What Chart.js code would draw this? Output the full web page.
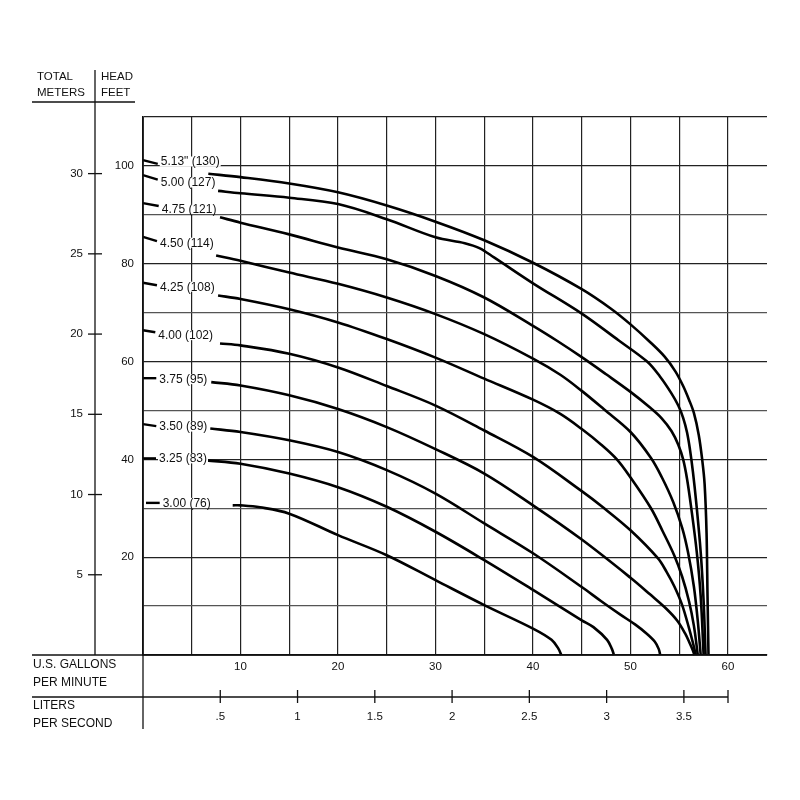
<!DOCTYPE html>
<html>
<head>
<meta charset="utf-8">
<script src="https://cdn.jsdelivr.net/npm/chart.js@4.4.0/dist/chart.umd.min.js"></script>
<style>
  html, body { margin: 0; padding: 0; background: #fff; }
  #wrap { position: relative; width: 800px; height: 800px; }
</style>
</head>
<body>
<div id="wrap"><canvas id="chart"></canvas></div>
<script>
const FONT = '"Liberation Sans", Arial, sans-serif';
const GPM_PER_LPS = 15.8503;
const FT_PER_M = 3.28084;

const GPM_TICKS = [10, 20, 30, 40, 50, 60];
const FEET_TICKS = [20, 40, 60, 80, 100];
const METER_TICKS = [5, 10, 15, 20, 25, 30];
const LPS_TICKS = [0.5, 1, 1.5, 2, 2.5, 3, 3.5];
const LPS_LABELS = ['.5', '1', '1.5', '2', '2.5', '3', '3.5'];

const IMPELLERS = ['5.13" (130)', '5.00 (127)', '4.75 (121)', '4.50 (114)', '4.25 (108)',
                   '4.00 (102)', '3.75 (95)', '3.50 (89)', '3.25 (83)', '3.00 (76)'];

// flow (US gpm) and head (ft)
const Q_513 = [6.7, 10, 15, 20, 25, 30, 35, 40, 45, 48, 50, 52, 53.5, 54.6, 55.4, 56.0, 56.5, 57.0, 57.35, 57.6, 57.8, 57.9, 58.0];
const H_513 = [98.4, 97.7, 96.4, 94.6, 91.9, 88.6, 84.8, 80.2, 74.8, 70.8, 67.6, 64.0, 61.0, 58.0, 55.0, 52.2, 49.5, 45, 40, 35, 25, 12, 0];
const Q_500 = [7.7, 10, 15, 20, 25, 30, 33, 34.5, 36, 40, 45, 48.8, 51.7, 53, 54.2, 54.9, 55.4, 55.8, 56.1, 56.4, 56.75, 57.2, 57.5, 57.7];
const H_500 = [94.9, 94.4, 93.5, 92.2, 89.1, 85.4, 84.2, 83.2, 81.3, 76.0, 69.8, 64.3, 60, 57, 53.5, 51.0, 48.5, 45.5, 42, 37.5, 31, 21, 11, 0];
const Q_475 = [7.9, 10, 15, 20, 25, 30, 35, 40, 42.5, 45, 47.5, 50, 52, 53.2, 54.2, 54.9, 55.4, 55.8, 56.2, 56.8, 57.2, 57.5];
const H_475 = [89.5, 88.4, 86.0, 83.3, 80.9, 77.5, 73.1, 67.3, 64.2, 60.9, 57.4, 53.8, 50.6, 48.4, 45.8, 43.0, 40.0, 36, 30.5, 21, 12, 0];
const Q_450 = [7.5, 10, 15, 20, 25, 30, 35, 40, 42.8, 45, 47.3, 50, 52.1, 53.2, 54.4, 55.3, 55.9, 56.5, 56.9, 57.2];
const H_450 = [81.7, 80.6, 78.2, 75.9, 73.1, 69.7, 65.6, 60.6, 57.3, 54, 50.2, 45.6, 40.3, 36.4, 31.2, 26, 21, 14, 7, 0];
const Q_425 = [7.7, 10, 15, 20, 25, 30, 35, 40, 42.8, 45, 47, 48.6, 50, 52.1, 53.3, 54.5, 55.3, 56.0, 56.5, 56.9];
const H_425 = [73.5, 72.8, 70.7, 68.0, 64.6, 60.8, 56.5, 52.2, 49.3, 46.2, 43, 40, 36.3, 30, 25.3, 20.3, 16, 11, 6, 0];
const Q_400 = [7.9, 10, 15, 20, 25, 30, 35, 40, 45, 47.3, 50, 52.8, 53.7, 54.5, 55.3, 56.0, 56.4, 56.7];
const H_400 = [63.7, 63.3, 61.6, 58.8, 55, 51, 45.9, 40.5, 33.5, 30, 25.5, 19.8, 17.0, 14, 10.2, 5.5, 2.5, 0];
const Q_375 = [7, 10, 15, 20, 25, 30, 35, 40, 45, 50, 52, 53.7, 54.8, 55.6, 56.1, 56.4, 56.55];
const H_375 = [55.8, 55.1, 53.1, 50.3, 46.6, 42.1, 37.1, 30.6, 23.6, 15.8, 12.4, 9.4, 7.0, 4.4, 2.3, 0.9, 0];
const Q_350 = [6.9, 10, 15, 20, 25, 30, 35, 40, 45, 47, 49, 50.5, 51.7, 52.5, 52.9, 53.05];
const H_350 = [46.3, 45.6, 43.9, 41.5, 37.8, 33, 26.9, 20.8, 13.9, 11, 8.2, 6.2, 4.3, 2.7, 1.2, 0];
const Q_325 = [6.5, 10, 15, 20, 25, 30, 35, 40, 45, 46.2, 47.6, 48.1, 48.3];
const H_325 = [39.8, 39.1, 37.1, 34.3, 30.3, 25.2, 19.4, 13.3, 7.1, 5.7, 3.1, 1.2, 0];
const Q_300 = [9.2, 10, 12, 15, 20, 25, 30, 35, 40, 41.9, 42.6, 42.9];
const H_300 = [30.6, 30.6, 30.2, 28.9, 24.5, 20.4, 15.3, 10.2, 5.4, 3.1, 1.3, 0];

// where each impeller label sits (gpm, ft) and the heads of its leader line (ft at the edge, ft at the text)
const LABEL_AT = [[1.82, 100.9], [1.82, 96.6], [1.92, 91.2], [1.74, 84.3], [1.74, 75.3],
                  [1.57, 65.4], [1.67, 56.4], [1.67, 46.7], [1.64, 40.2], [2.02, 31.1]];
const LEADER_FT = [[101.2, 100.4], [98.1, 97.2], [92.4, 91.8], [85.5, 84.6], [76.1, 75.6],
                   [66.4, 66.0], [56.6, 56.6], [47.2, 46.8], [40.2, 40.2], [31.1, 31.1]];

const CURVES = [[Q_513, H_513], [Q_500, H_500], [Q_475, H_475], [Q_450, H_450], [Q_425, H_425],
                [Q_400, H_400], [Q_375, H_375], [Q_350, H_350], [Q_325, H_325], [Q_300, H_300]];

const decor = {
  id: 'decor',
  afterDatasetsDraw(chart) {
    const { ctx, chartArea: a, scales: { x, y } } = chart;
    ctx.save();
    ctx.font = '12px ' + FONT;
    ctx.textBaseline = 'middle';
    IMPELLERS.forEach((txt, i) => {
      const px = x.getPixelForValue(LABEL_AT[i][0]);
      const py = y.getPixelForValue(LABEL_AT[i][1]);
      const w = ctx.measureText(txt).width;
      ctx.fillStyle = '#fff';
      ctx.fillRect(px - 1, py - 5, w + 2, 10);
      ctx.fillStyle = '#111';
      ctx.fillText(txt, px, py + 0.5);
      ctx.strokeStyle = '#000';
      ctx.lineWidth = 2.4;
      ctx.beginPath();
      ctx.moveTo(a.left + (i === 9 ? 3 : 0), y.getPixelForValue(LEADER_FT[i][0]));
      ctx.lineTo(px - 3, y.getPixelForValue(LEADER_FT[i][1]));
      ctx.stroke();
    });
    ctx.restore();
  },
  afterDraw(chart) {
    const { ctx, chartArea: a, scales: { x, m, l } } = chart;
    const edge = m.left;
    ctx.save();
    ctx.strokeStyle = '#111';
    ctx.lineWidth = 1.3;
    const seg = (x1, y1, x2, y2) => { ctx.beginPath(); ctx.moveTo(x1, y1); ctx.lineTo(x2, y2); ctx.stroke(); };
    seg(edge, a.bottom, a.right, a.bottom);
    seg(edge, l.top, x.getPixelForValue(60), l.top);
    seg(a.left, a.top, a.left, l.top + 32);
    seg(m.right, a.top - 47, m.right, a.bottom);
    seg(edge, a.top - 15, a.left - 8, a.top - 15);
    m.ticks.forEach(t => { const py = m.getPixelForValue(t.value); seg(m.right - 7, py, m.right + 7, py); });
    l.ticks.forEach(t => { const px = l.getPixelForValue(t.value); seg(px, l.top - 7, px, l.top + 6); });
    const end = x.getPixelForValue(60);
    seg(end, l.top - 7, end, l.top + 6);

    ctx.fillStyle = '#111';
    ctx.font = '11.5px ' + FONT;
    ctx.textBaseline = 'middle';
    ctx.fillText('TOTAL', edge + 5, a.top - 40);
    ctx.fillText('METERS', edge + 5, a.top - 24);
    ctx.fillText('HEAD', m.right + 6, a.top - 40);
    ctx.fillText('FEET', m.right + 6, a.top - 24);
    ctx.font = '12px ' + FONT;
    ctx.fillText('U.S. GALLONS', edge + 1, a.bottom + 10);
    ctx.fillText('PER MINUTE', edge + 1, a.bottom + 28);
    ctx.fillText('LITERS', edge + 1, l.top + 9);
    ctx.fillText('PER SECOND', edge + 1, l.top + 27);
    ctx.restore();
  }
};

const tickFont = { family: FONT, size: 11.5 };

new Chart(document.getElementById('chart'), {
  type: 'scatter',
  data: {
    datasets: CURVES.map(([q, h], i) => ({
      label: IMPELLERS[i],
      data: q.map((v, k) => ({ x: v, y: h[k] })),
      showLine: true,
      borderColor: '#000',
      borderWidth: 2.6,
      pointRadius: 0,
      tension: 0.35,
      clip: 3,
      xAxisID: 'x',
      yAxisID: 'y',
    }))
  },
  options: {
    responsive: true,
    maintainAspectRatio: false,
    animation: false,
    layout: { padding: { left: 32, right: 33, top: 117, bottom: 63 } },
    plugins: { legend: { display: false }, tooltip: { enabled: false } },
    scales: {
      x: {
        type: 'linear', position: 'bottom', weight: 0, min: 0, max: 64,
        afterFit: s => { s.height = 42; },
        ticks: {
          stepSize: 5, includeBounds: false, autoSkip: false, maxRotation: 0, padding: 5,
          color: '#111', font: tickFont,
          callback: v => GPM_TICKS.includes(v) ? String(v) : ''
        },
        grid: { color: '#222', lineWidth: 1.2, drawTicks: false },
        border: { display: true, color: '#111', width: 1.4 }
      },
      l: {
        type: 'linear', position: 'bottom', weight: 1, min: 0, max: 64 / GPM_PER_LPS,
        afterFit: s => { s.height = 40; },
        afterBuildTicks: s => { s.ticks = LPS_TICKS.map(v => ({ value: v })); },
        ticks: {
          autoSkip: false, maxRotation: 0, padding: 13, color: '#111', font: tickFont,
          callback: (v, i) => LPS_LABELS[i]
        },
        grid: { display: false, drawTicks: false },
        border: { display: false }
      },
      y: {
        type: 'linear', position: 'left', weight: 0, min: 0, max: 110,
        afterFit: s => { s.width = 48; },
        ticks: {
          stepSize: 10, includeBounds: false, autoSkip: false, padding: 9,
          color: '#111', font: tickFont,
          callback: v => FEET_TICKS.includes(v) ? String(v) : ''
        },
        grid: {
          color: c => (c.tick.value % 20 === 0 || c.tick.value === 110) ? '#222' : '#555',
          lineWidth: 1.2, drawTicks: false
        },
        border: { display: true, color: '#111', width: 1.6 }
      },
      m: {
        type: 'linear', position: 'left', weight: 1, min: 0, max: 110 / FT_PER_M,
        afterFit: s => { s.width = 63; },
        afterBuildTicks: s => { s.ticks = METER_TICKS.map(v => ({ value: v })); },
        ticks: { autoSkip: false, padding: 12, color: '#111', font: tickFont },
        grid: { display: false, drawTicks: false },
        border: { display: false }
      }
    }
  },
  plugins: [decor]
});
</script>
</body>
</html>
